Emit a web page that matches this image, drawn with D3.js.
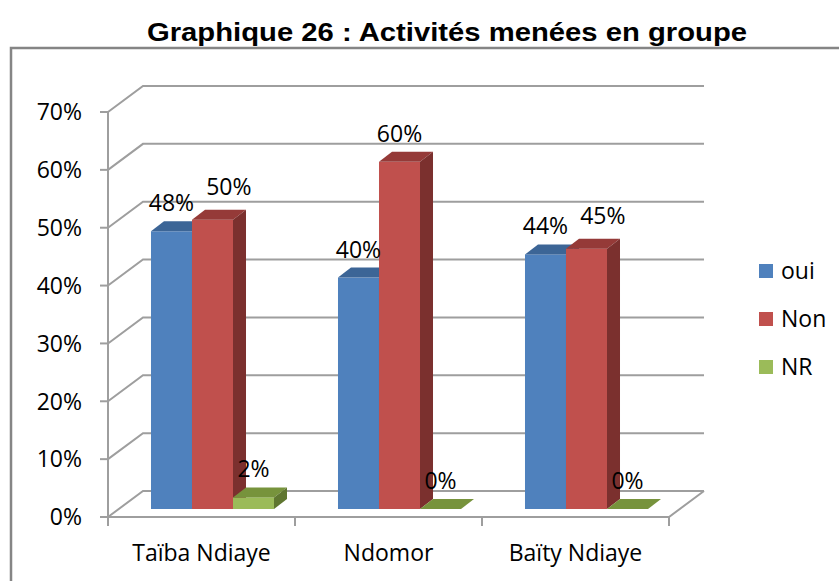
<!DOCTYPE html>
<html>
<head>
<meta charset="utf-8">
<script src="https://cdn.jsdelivr.net/npm/d3@7"></script>
<style>
  body { margin: 0; background: #fff; }
  .label { font-family: "Open Sans", Lato, sans-serif; font-size: 23px; fill: #000; }
  .title { font-family: "Liberation Sans", Arial, sans-serif; font-weight: bold; font-size: 26px; fill: #000; }
  .grid { stroke: #9e9e9e; stroke-width: 2; fill: none; }
</style>
</head>
<body>
<svg id="chart" width="839" height="581"></svg>
<script>
let categories = ["Taïba Ndiaye", "Ndomor", "Baïty Ndiaye"];
let series_names = ["oui", "Non", "NR"];
let oui = [0.48, 0.40, 0.44];
let non = [0.50, 0.60, 0.45];
let nr = [0.02, 0.00, 0.00];
let y_ticks = [0, 0.1, 0.2, 0.3, 0.4, 0.5, 0.6, 0.7];

let series_values = [oui, non, nr];
let front_colors = ["#4f81bd", "#c0504d", "#9bbb59"];
let top_colors = ["#3c6596", "#953a38", "#77933c"];
let side_colors = ["#375c8a", "#7b302e", "#5f7630"];

// 3D offsets: back wall, bar front from the floor front, bar depth
let wall = {dx: 35, dy: -26};
let bar_off = {dx: 11, dy: -8};
let depth = {dx: 13, dy: -10};

let svg = d3.select("#chart");

// Outer frame
svg.append("path")
	.attr("d", "M11,581 V48 H839")
	.attr("fill", "none")
	.attr("stroke", "#858585")
	.attr("stroke-width", 2.5);

// Title
svg.append("text")
	.attr("class", "title")
	.attr("x", 447)
	.attr("y", 41)
	.attr("text-anchor", "middle")
	.attr("textLength", 600)
	.attr("lengthAdjust", "spacingAndGlyphs")
	.text("Graphique 26 : Activités menées en groupe");

// Scales
let x0 = d3.scaleBand().domain(categories).range([108, 669]);
let x1 = d3.scaleBand().domain(series_names).range([0, x0.bandwidth()]).paddingOuter(0.78);
let y = d3.scaleLinear().domain([0, 0.7]).range([517, 112]);

let x_left = x0.range()[0];
let x_right = x0.range()[1];

// Gridlines on side wall and back wall
let grid = svg.append("g");
y_ticks.forEach(function(t) {
	grid.append("path")
		.attr("class", "grid")
		.attr("d", "M" + x_left + "," + y(t) +
			" L" + (x_left + wall.dx) + "," + (y(t) + wall.dy) +
			" H" + (x_right + wall.dx));
	grid.append("line")
		.attr("class", "grid")
		.attr("x1", x_left - 8).attr("x2", x_left)
		.attr("y1", y(t)).attr("y2", y(t));
	grid.append("text")
		.attr("class", "label")
		.attr("x", 82)
		.attr("y", y(t))
		.attr("dy", "0.36em")
		.attr("text-anchor", "end")
		.text(d3.format(".0%")(t));
});

// Front vertical axis and floor
grid.append("line").attr("class", "grid")
	.attr("x1", x_left).attr("x2", x_left)
	.attr("y1", y(0) + 9).attr("y2", y(0.7));
grid.append("path").attr("class", "grid")
	.attr("d", "M" + x_left + "," + y(0) + " H" + x_right +
		" L" + (x_right + wall.dx) + "," + (y(0) + wall.dy));
categories.forEach(function(c) {
	let xe = x0(c) + x0.bandwidth();
	grid.append("line").attr("class", "grid")
		.attr("x1", xe).attr("x2", xe)
		.attr("y1", y(0)).attr("y2", y(0) + 9);
	grid.append("text")
		.attr("class", "label")
		.attr("x", x0(c) + x0.bandwidth() / 2)
		.attr("y", 561)
		.attr("text-anchor", "middle")
		.text(c);
});

// Bars
let bars = svg.append("g");
let labels = svg.append("g");
categories.forEach(function(c, ci) {
	let prev_box = null;
	series_names.forEach(function(s, si) {
		let v = series_values[si][ci];
		let xa = x0(c) + x1(s) + bar_off.dx;
		let xb = xa + x1.bandwidth();
		let yb = y(0) + bar_off.dy;
		let yt = y(v) + bar_off.dy;

		bars.append("rect")
			.attr("x", xa).attr("y", yt)
			.attr("width", xb - xa).attr("height", yb - yt)
			.attr("fill", front_colors[si]);
		bars.append("path")
			.attr("d", "M" + xa + "," + yt + " L" + xb + "," + yt +
				" L" + (xb + depth.dx) + "," + (yt + depth.dy) +
				" L" + (xa + depth.dx) + "," + (yt + depth.dy) + "Z")
			.attr("fill", top_colors[si]);
		if (yb > yt) {
			bars.append("path")
				.attr("d", "M" + xb + "," + yt + " L" + (xb + depth.dx) + "," + (yt + depth.dy) +
					" L" + (xb + depth.dx) + "," + (yb + depth.dy) +
					" L" + xb + "," + yb + "Z")
				.attr("fill", side_colors[si]);
		}

		// Data label, pushed right if it collides with the previous one
		let lbl = labels.append("text")
			.attr("class", "label")
			.attr("x", (xa + xb) / 2)
			.attr("y", yt + depth.dy - 10)
			.attr("text-anchor", "middle")
			.text(d3.format(".0%")(v));
		let box = lbl.node().getBBox();
		if (prev_box && box.x < prev_box.x + prev_box.width &&
			box.y < prev_box.y + prev_box.height && box.y + box.height > prev_box.y) {
			let shift = prev_box.x + prev_box.width + 12 - box.x;
			lbl.attr("x", (xa + xb) / 2 + shift).attr("y", yt + depth.dy - 15);
			box = lbl.node().getBBox();
		}
		prev_box = box;
	});
});

// Legend
let legend = svg.append("g");
series_names.forEach(function(s, i) {
	legend.append("rect")
		.attr("x", 759).attr("y", 264 + i * 48)
		.attr("width", 14).attr("height", 14)
		.attr("fill", front_colors[i]);
	legend.append("text")
		.attr("class", "label")
		.attr("x", 781)
		.attr("y", 271 + i * 48)
		.attr("dy", "0.36em")
		.text(s);
});
</script>
</body>
</html>
